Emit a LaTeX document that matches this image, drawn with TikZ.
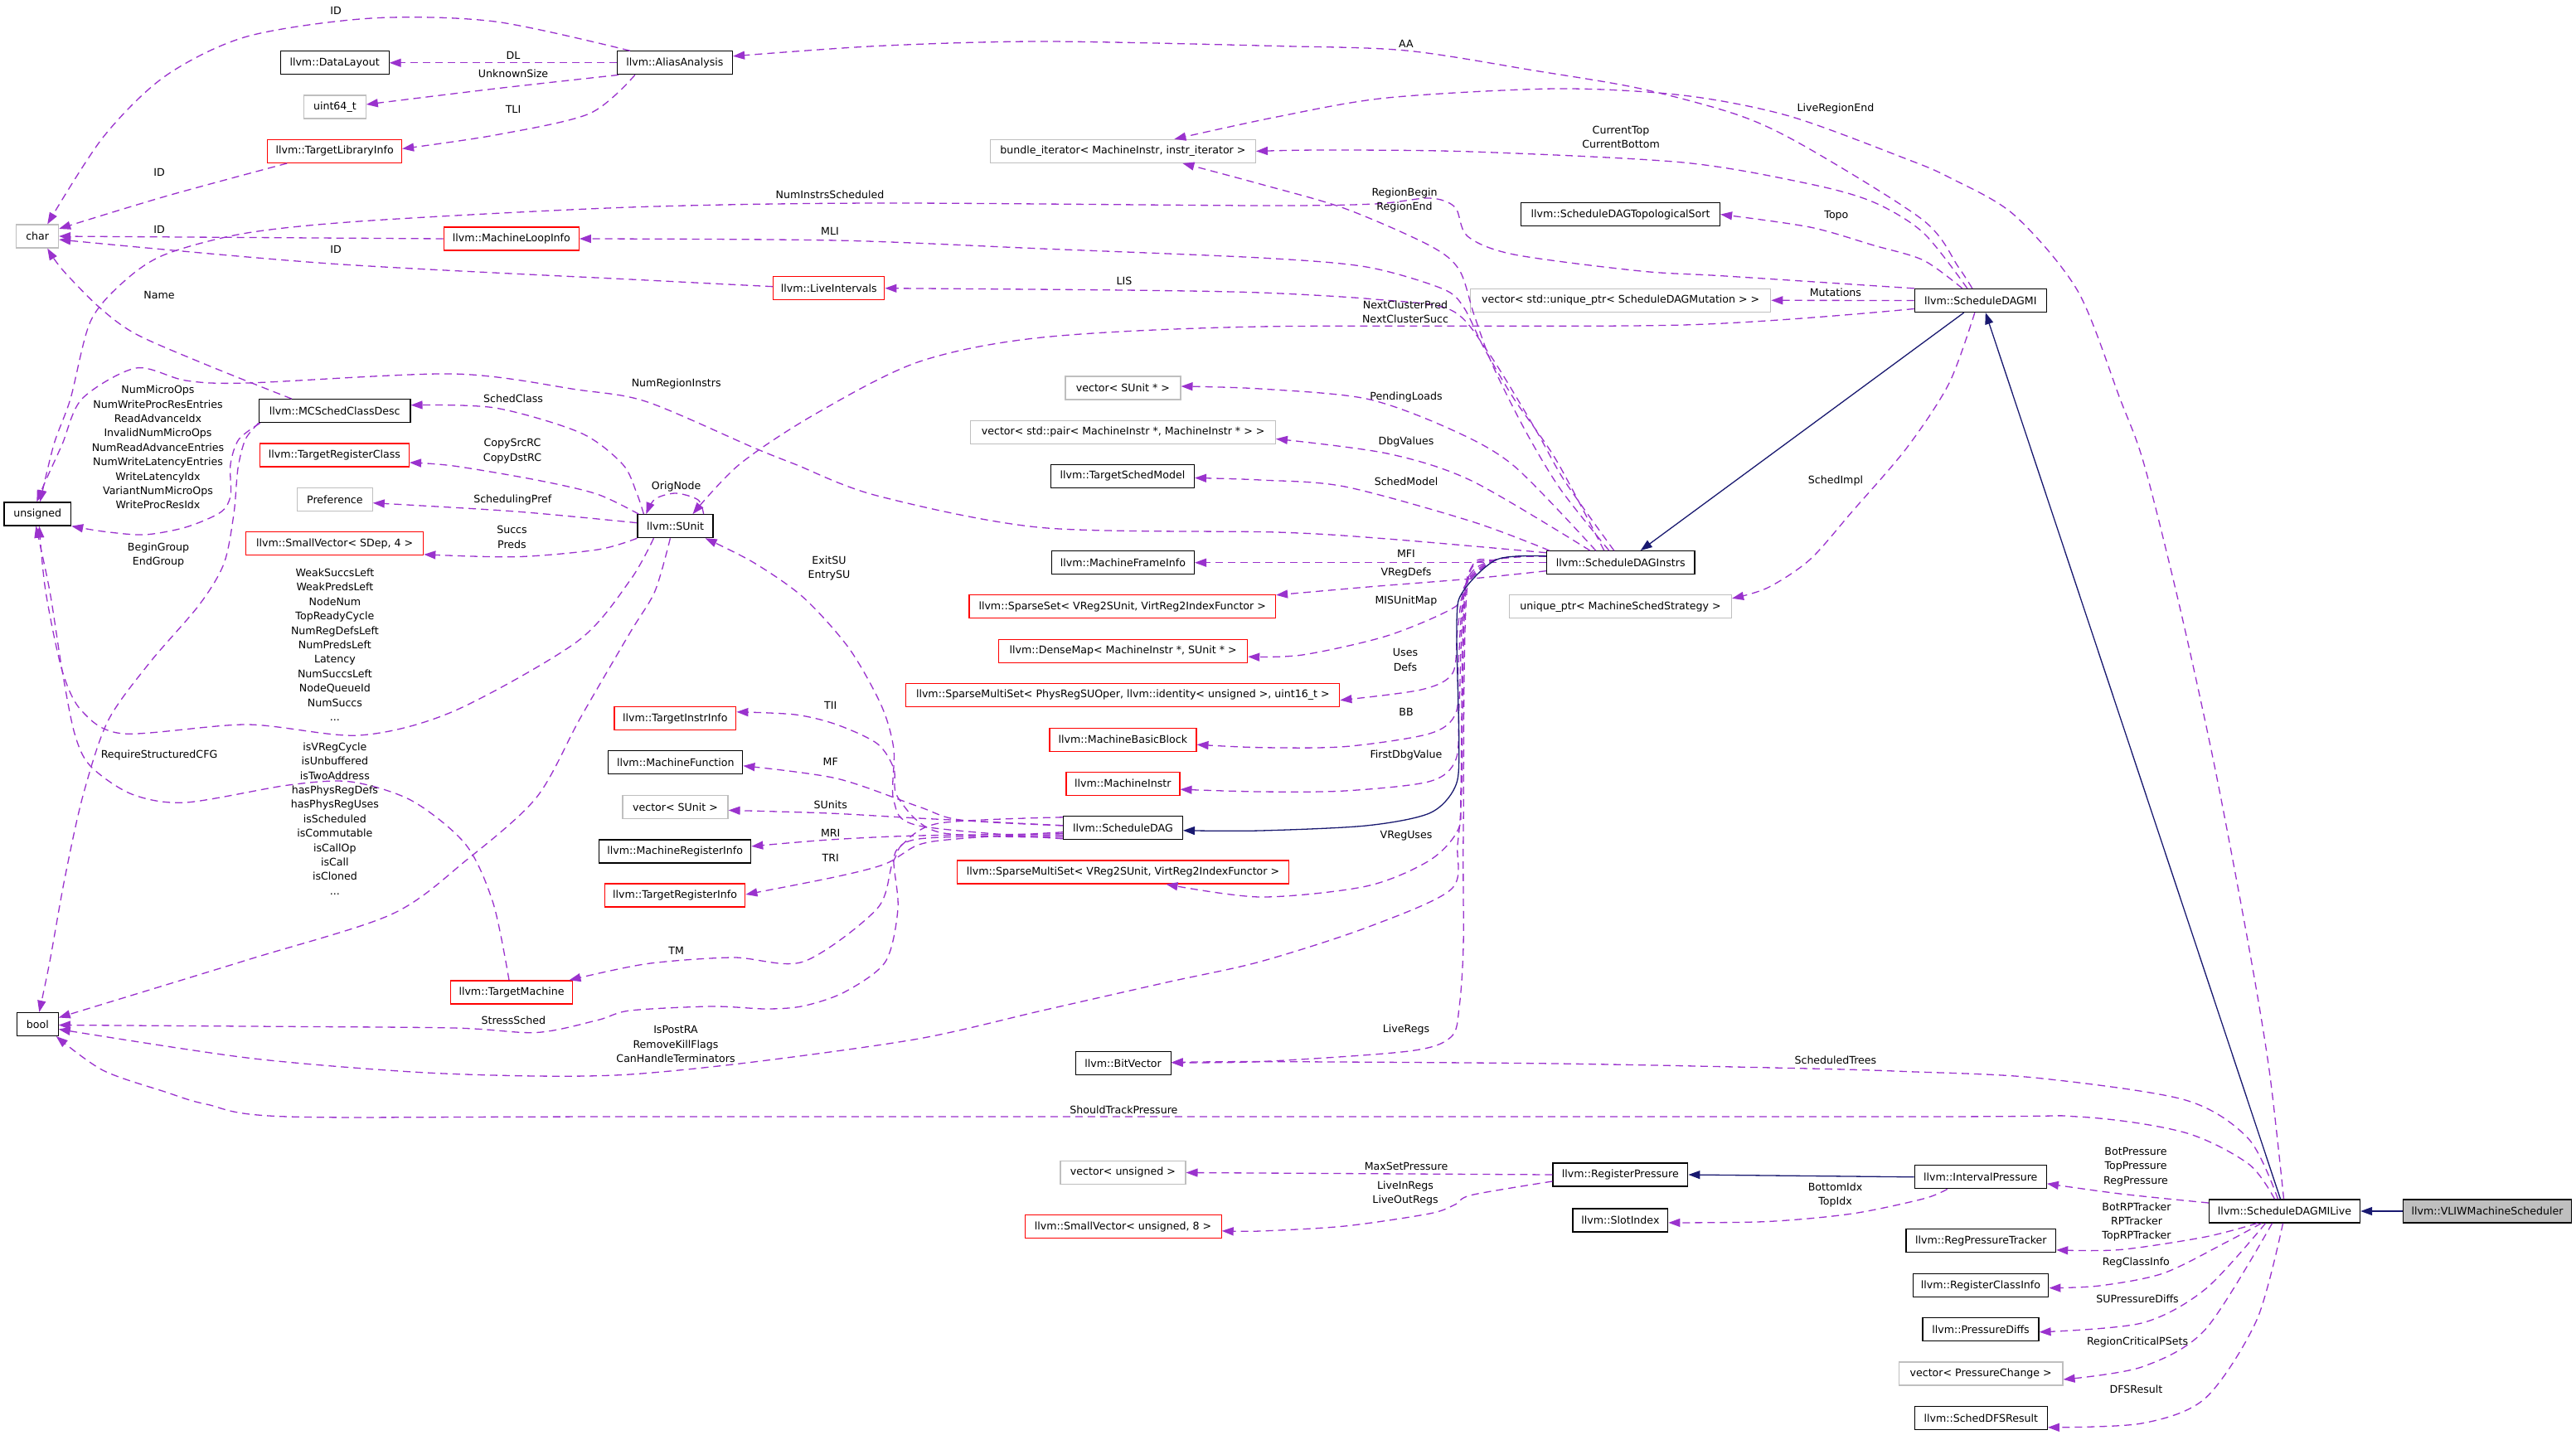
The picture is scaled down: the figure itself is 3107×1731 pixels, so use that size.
\documentclass[tikz,border=0pt]{standalone}
\usepackage{fontspec}
\setmainfont{DejaVu Sans}
\usetikzlibrary{arrows.meta}
\definecolor{depc}{HTML}{9A32CD}
\definecolor{inhc}{HTML}{191970}
\definecolor{grayc}{HTML}{BFBFBF}
\newcommand\dgfont{\fontsize{12.6pt}{17.4pt}\selectfont}
\begin{document}
\begin{tikzpicture}[x=1pt,y=-1pt,
  cls/.style={draw=black, line width=1.2pt, fill=white, minimum height=28pt, inner xsep=3pt, inner ysep=0pt, font=\dgfont, text=black},
  trunc/.style={cls, draw=red},
  undoc/.style={cls, draw=grayc},
  selfc/.style={cls, fill=grayc},
  dep/.style={draw=depc, line width=1.3pt, dash pattern=on 9pt off 6pt, -{Triangle[length=14pt,width=10pt]}},
  inh/.style={draw=inhc, line width=1.3pt, -{Triangle[length=14pt,width=10pt]}},
  lbl/.style={font=\dgfont, align=center, inner sep=0pt, text=black}]
\fill[white] (0,0) rectangle (3107,1731);
\useasboundingbox (0,0) rectangle (3107,1731);

% ---------- nodes ----------
\node[undoc, minimum width=50.7pt] (char) at (45.2,285) {char};
\node[cls, minimum width=131pt] (dl) at (403.6,75.8) {llvm::DataLayout};
\node[undoc, minimum width=74.6pt] (u64) at (403.9,129) {uint64\_t};
\node[trunc, minimum width=161.7pt] (tli) at (403.7,182.4) {llvm::TargetLibraryInfo};
\node[cls, minimum width=139pt] (aa) at (814,75.8) {llvm::AliasAnalysis};
\node[trunc, minimum width=163pt] (mli) at (616.8,288) {llvm::MachineLoopInfo};
\node[trunc, minimum width=134pt] (lis) at (999.8,347.7) {llvm::LiveIntervals};
\node[undoc, minimum width=320pt] (bundle) at (1354.4,182.4) {bundle\_iterator< MachineInstr, instr\_iterator >};
\node[cls, minimum width=240pt] (topo) at (1954.5,258.6) {llvm::ScheduleDAGTopologicalSort};
\node[undoc, minimum width=362pt] (mut) at (1954.7,362.3) {vector< std::unique\_ptr< ScheduleDAGMutation > >};
\node[cls, minimum width=159pt] (dagmi) at (2388.8,362.5) {llvm::ScheduleDAGMI};
\node[cls, minimum width=182.5pt] (mcs) at (403.7,495.7) {llvm::MCSchedClassDesc};
\node[trunc, minimum width=180pt] (trc) at (403.4,549) {llvm::TargetRegisterClass};
\node[cls, minimum width=80.6pt] (unsig) at (45.3,620) {unsigned};
\node[undoc, minimum width=90.6pt] (pref) at (403.9,602.7) {Preference};
\node[trunc, minimum width=214.3pt] (sdep) at (403.6,655.8) {llvm::SmallVector< SDep, 4 >};
\node[cls, minimum width=91pt] (sunit) at (814.5,634.7) {llvm::SUnit};
\node[undoc, minimum width=139pt] (vsup) at (1354.4,468) {vector< SUnit * >};
\node[undoc, minimum width=367.5pt] (vpair) at (1354.6,521.4) {vector< std::pair< MachineInstr *, MachineInstr * > >};
\node[cls, minimum width=173pt] (tsm) at (1353.9,574.5) {llvm::TargetSchedModel};
\node[cls, minimum width=172pt] (mfi) at (1354.4,678.7) {llvm::MachineFrameInfo};
\node[trunc, minimum width=369.6pt] (sset) at (1353.7,731.8) {llvm::SparseSet< VReg2SUnit, VirtReg2IndexFunctor >};
\node[trunc, minimum width=300pt] (dmap) at (1354.6,785.2) {llvm::DenseMap< MachineInstr *, SUnit * >};
\node[trunc, minimum width=523pt] (smsp) at (1354.3,838.6) {llvm::SparseMultiSet< PhysRegSUOper, llvm::identity< unsigned >, uint16\_t >};
\node[trunc, minimum width=177pt] (mbb) at (1354.4,892.2) {llvm::MachineBasicBlock};
\node[trunc, minimum width=137pt] (mi) at (1354.4,945.2) {llvm::MachineInstr};
\node[cls, minimum width=144pt] (sdag) at (1354.4,998.8) {llvm::ScheduleDAG};
\node[trunc, minimum width=400pt] (smsv) at (1354.5,1052) {llvm::SparseMultiSet< VReg2SUnit, VirtReg2IndexFunctor >};
\node[trunc, minimum width=146.8pt] (tii) at (814.4,866.8) {llvm::TargetInstrInfo};
\node[cls, minimum width=162pt] (mf) at (814.8,919.8) {llvm::MachineFunction};
\node[undoc, minimum width=127pt] (vsu) at (814.5,973.4) {vector< SUnit >};
\node[cls, minimum width=183pt] (mri) at (814.2,1026.9) {llvm::MachineRegisterInfo};
\node[trunc, minimum width=169.6pt] (tri) at (814,1080) {llvm::TargetRegisterInfo};
\node[trunc, minimum width=147.7pt] (tm) at (617,1197) {llvm::TargetMachine};
\node[cls, minimum width=49.7pt] (bool) at (45.3,1235.5) {bool};
\node[cls, minimum width=115pt] (bv) at (1354.6,1282.7) {llvm::BitVector};
\node[cls, minimum width=178.6pt] (dagi) at (1954.7,678.7) {llvm::ScheduleDAGInstrs};
\node[undoc, minimum width=268pt] (uptr) at (1954.5,731.8) {unique\_ptr< MachineSchedStrategy >};
\node[undoc, minimum width=151pt] (vuns) at (1354.4,1414.5) {vector< unsigned >};
\node[trunc, minimum width=237pt] (sv8) at (1354.6,1479.8) {llvm::SmallVector< unsigned, 8 >};
\node[cls, minimum width=162.8pt] (rp) at (1954.4,1417) {llvm::RegisterPressure};
\node[cls, minimum width=114.8pt] (slot) at (1954.4,1471.9) {llvm::SlotIndex};
\node[cls, minimum width=159pt] (ip) at (2388.8,1419.8) {llvm::IntervalPressure};
\node[cls, minimum width=180.6pt] (rpt) at (2389.3,1496.8) {llvm::RegPressureTracker};
\node[cls, minimum width=163.7pt] (rci) at (2389,1550.6) {llvm::RegisterClassInfo};
\node[cls, minimum width=140pt] (pdiffs) at (2389,1603.8) {llvm::PressureDiffs};
\node[undoc, minimum width=197.5pt] (vpc) at (2389.2,1657) {vector< PressureChange >};
\node[cls, minimum width=160pt] (dfs) at (2389.3,1710.8) {llvm::SchedDFSResult};
\node[cls, minimum width=182.2pt] (dagmil) at (2755.5,1461) {llvm::ScheduleDAGMILive};
\node[selfc, minimum width=202.8pt] (vliw) at (3000,1461) {llvm::VLIWMachineScheduler};

% ---------- AliasAnalysis & char ----------
\draw[dep] plot[smooth] coordinates {([xshift=16pt]aa.north west) (597,26) (448,22) (298,44) (199,92) (124,166) ([xshift=12pt]char.north)};
\draw[dep] (aa.west) -- (dl.east);
\draw[dep] plot[smooth] coordinates {([xshift=2pt]aa.south west) (597,107) ([yshift=3pt]u64.east)};
\draw[dep] plot[smooth] coordinates {([xshift=22pt]aa.south west) (711,137) (597,163) ([yshift=3pt]tli.east)};
\draw[dep] plot[smooth] coordinates {([xshift=24pt]tli.south west) (199,237) ([yshift=9pt]char.east)};
\draw[dep] (mli.west) -- (char.east);
\draw[dep] plot[smooth] coordinates {([yshift=2pt]lis.west) (780,338) (398,318) ([yshift=-4pt]char.east)};
\draw[dep] plot[smooth] coordinates {([xshift=40pt]mcs.north west) (249,440) (164,403) (119,370) (75,325) ([xshift=12pt]char.south)};

% ---------- MCSchedClassDesc ----------
\draw[dep] plot[smooth] coordinates {([xshift=2pt]mcs.south west) (288,530) (278,560) (278,598) (266,618) (224,636) (174,645) (124,641) (unsig.south east)};
\draw[dep] plot[smooth] coordinates {(mcs.south west) (296,530) (287,565) (282,620) (270,680) (240,730) (180,800) (130,870) (100,960) (78,1060) (60,1160) ([xshift=2pt]bool.north)};

% ---------- SUnit ----------
\draw[dep] plot[smooth] coordinates {([xshift=8pt]sunit.north west) (768,595) (751,560) (700,522) (597,492) ([yshift=7pt]mcs.east)};
\draw[dep] plot[smooth] coordinates {([xshift=2pt]sunit.north west) (720,596) (647,579) (547,562) ([yshift=-9pt]trc.east)};
\draw[dep] plot[smooth] coordinates {([yshift=4pt]sunit.west) (622,617) ([yshift=-4pt]pref.east)};
\draw[dep] plot[smooth] coordinates {(sunit.south west) (721,663) (622,671.7) ([yshift=-13pt]sdep.east)};
\draw[dep] plot[smooth] coordinates {([xshift=20pt]sunit.south west) (760,700) (696,774) (547,858) (433,887) (298,874) (149,885) (99,858) (75,809) (55,713) ([xshift=2pt]unsig.south)};
\draw[dep] plot[smooth] coordinates {([xshift=40pt]sunit.south west) (790,713) (760,763) (700,866) (647,962) (562,1038) (472,1103) (298,1158) ([yshift=8pt]bool.east)};
\draw[dep] plot[smooth] coordinates {([xshift=-12pt]sunit.north east) (842,603) (815,595) (790,602) ([xshift=11pt]sunit.north west)};
\draw[dep] plot[smooth] coordinates {([xshift=-3pt]tm.north) (595,1090) (562,1019) (497,966) (423,943) (348,947) (224,968) (159,958) (109,924) (90,885) (75,809) (60,713) ([xshift=-2pt]unsig.south)};

% ---------- ScheduleDAGMI ----------
\draw[dep] plot[smooth] coordinates {([yshift=-10pt]dagmi.west) (2030,392) (1520,394) (1257,407) (1108,436.5) (984,499) (892,560) ([xshift=21pt]sunit.north)};
\draw[dep] plot[smooth] coordinates {(dagmi.north west) (2081,333) (1979,327) (1826,307) (1770,285) (1755,250) (1724,239) (1658,246) (1520,248) (1058,245) (760,250) (448,266) (298,281) (199,307) (149,340) (109,388) (85,481) (65,536) ([xshift=3pt]unsig.north)};
\draw[dep] plot[smooth] coordinates {([xshift=-10pt]dagmi.north) (2362,322) (2320,266) (2183,180) (2100,140) (1979,107) (1850,85) (1696,61) (1540,55.5) (1257,50) (1058,55.5) ([yshift=8pt]aa.east)};
\draw[dep] plot[smooth] coordinates {([xshift=-16pt]dagmi.north) (2320,281) (2260,244) (2183,222) (2030,196) (1775,183) (1600,181) (bundle.east)};
\draw[dep] plot[smooth] coordinates {([xshift=-22pt]dagmi.north) (2320,314) (2260,296) (2183,274) (topo.east)};
\draw[dep] (dagmi.west) -- (mut.east);
\draw[dep] plot[smooth] coordinates {([xshift=-7pt]dagmi.south) (2351,462) (2300,540) (2234,617) (2183,675) (2132,709) ([yshift=10pt]uptr.east)};
\draw[inh] ([xshift=-20pt]dagmi.south) -- ([xshift=24pt]dagi.north);

% ---------- ScheduleDAGInstrs ----------
\draw[dep] plot[smooth] coordinates {([yshift=12pt]dagi.west) (1673,650) (1540,642) (1257,636.5) (1058,598) (959,560) (909,540) (780,484.6) (696,470) (547,451) (298,462) (224,459) (164,444) (99,481) (75,536) (55,580) ([xshift=-1pt]unsig.north)};
\draw[dep] plot[smooth] coordinates {([xshift=-14pt]dagi.north) (1882,590) (1840,520) (1800,440) (1778,380) (1760,325.5) (1724,296) (1622,251.5) (1520,222) ([xshift=72pt]bundle.south)};
\draw[dep] plot[smooth] coordinates {([xshift=-20pt]dagi.north) (1877,555) (1826,481) (1790,420) (1765,370) (1739,348) (1648,322) (1520,311) (1257,300) (1009,290) (mli.east)};
\draw[dep] plot[smooth] coordinates {([xshift=-8pt]dagi.north) (1887,580) (1852,518) (1795,425) (1750,374) (1658,361) (1520,353) (1356,350) (lis.east)};
\draw[dep] plot[smooth] coordinates {([xshift=-30pt]dagi.north) (1826,562) (1750,518) (1648,481) (1520,469) ([yshift=2pt]vsup.east)};
\draw[dep] plot[smooth] coordinates {([xshift=-37pt]dagi.north) (1775,580) (1673,547) ([yshift=-8pt]vpair.east)};
\draw[dep] plot[smooth] coordinates {([xshift=4pt]dagi.north west) (1775,629) (1622,587) (1520,579) ([yshift=-2pt]tsm.east)};
\draw[dep] (dagi.west) -- (mfi.east);
\draw[dep] plot[smooth] coordinates {([yshift=-10pt]dagi.west) (1775,698) (1650,708) ([yshift=14pt]sset.east)};
\draw[dep] plot[smooth] coordinates {([yshift=8pt]dagi.west) (1805,675) (1768,705) (1755,732) (1673,767) (1571,790) ([yshift=-7pt]dmap.east)};
\draw[dep] plot[smooth] coordinates {([yshift=8pt]dagi.west) (1805,675) (1768,705) (1758,760) (1752,812) (1714,832) ([yshift=-6pt]smsp.east)};
\draw[dep] plot[smooth] coordinates {([yshift=8pt]dagi.west) (1805,675) (1768,705) (1759,800) (1756,860) (1724,885) (1622,900.6) (1520,901.7) ([yshift=-6pt]mbb.east)};
\draw[dep] plot[smooth] coordinates {([yshift=8pt]dagi.west) (1805,675) (1768,705) (1760,850) (1756,916) (1724,942.7) (1622,954) (1520,955) ([yshift=-7pt]mi.east)};
\draw[dep] plot[smooth] coordinates {([yshift=8pt]dagi.west) (1805,675) (1768,705) (1762,950) (1759,1000) (1724,1038) (1648,1069) (1520,1082) ([xshift=52pt]smsv.south)};
\draw[dep] plot[smooth] coordinates {([yshift=8pt]dagi.west) (1805,675) (1770,705) (1765,1000) (1765,1140) (1760,1215) (1750,1251) (1699,1268) (1520,1280.6) ([yshift=1pt]bv.east)};
\draw[dep] plot[smooth] coordinates {([yshift=8pt]dagi.west) (1805,675) (1769,705) (1763,950) (1758,1019) (1750,1073) (1648,1119) (1520,1160) (1407,1185) (1257,1219) (1108,1253) (909,1281) (760,1296) (647,1298) (497,1293) (298,1276) ([yshift=-6pt]bool.east)};
\draw[inh] plot[smooth] coordinates {([yshift=8pt]dagi.west) (1805.7,674.8) (1764.9,713) (1757,751) (1759.8,904) (1754.7,950) (1724,981) (1647.6,996) (1520,1002) ([yshift=-3pt]sdag.east)};

% ---------- ScheduleDAG ----------
\draw[dep] plot[smooth] coordinates {([yshift=-11pt]sdag.west) (1133,1004) (1083,962) (1078,927) (1058,897) (1009,874) (959,862) ([yshift=8pt]tii.east)};
\draw[dep] plot[smooth] coordinates {([yshift=3pt]sdag.west) (1158,989) (1108,973) (1009,939) ([yshift=-4pt]mf.east)};
\draw[dep] plot[smooth] coordinates {([yshift=3pt]sdag.west) (1108,987) (1000,981) ([yshift=-4pt]vsu.east)};
\draw[dep] plot[smooth] coordinates {([yshift=-7pt]sdag.west) (1108,1008) (1000,1013) ([yshift=6pt]mri.east)};
\draw[dep] plot[smooth] coordinates {([yshift=-5pt]sdag.west) (1158,1011.6) (1108,1019) (1068,1042) (1009,1057.5) ([yshift=1pt]tri.east)};
\draw[dep] plot[smooth] coordinates {([yshift=-13pt]sdag.west) (1108,996) (1078,966) (1078,904) (1063,851) (1024,782) (969,720.7) (909,678.6) ([xshift=-10pt]sunit.south east)};
\draw[dep] plot[smooth] coordinates {([yshift=-9pt]sdag.west) (1108,1012) (1078,1038) (1058,1096) (969,1160) (884,1155) (780,1162.6) ([xshift=-5pt]tm.north east)};
\draw[dep] plot[smooth] coordinates {([yshift=13pt]sdag.west) (1133,993) (1088,1019) (1078,1038) (1083,1096) (1068,1160) (1019,1196.5) (969,1213.5) (924,1217) (859,1214) (760,1219) (721,1230.5) (647,1245.5) (547,1240) (300,1238) ([yshift=-1pt]bool.east)};

% ---------- ScheduleDAGMILive ----------
\draw[dep] plot[smooth] coordinates {([xshift=-1pt]dagmil.north) (2737,1291) (2712,1140) (2671,924) (2629,732) (2586,560) (2557,481) (2506,351) (2429,259) (2351,214) (2300,192) (2158,140) (2030,115) (1877,107) (1673,118) (1540,141) ([xshift=62pt]bundle.north)};
\draw[dep] plot[smooth] coordinates {([xshift=-8pt]dagmil.north) (2712,1373.7) (2634.6,1326.6) (2454,1300) (2300,1292.6) (2183,1289) (1877,1283) (1520,1280.6) ([yshift=1pt]bv.east)};
\draw[dep] plot[smooth] coordinates {([xshift=-12pt]dagmil.north) (2712,1404) (2634.6,1366) (2506,1347) (2300,1347) (780,1347) (348,1347) (249,1332) (199,1317) (124,1291) ([xshift=-3pt]bool.south east)};
\draw[dep] plot[smooth] coordinates {([yshift=10pt]dagmil.west) (2557,1440) ([yshift=-8pt]ip.east)};
\draw[dep] plot[smooth] coordinates {([xshift=-33pt]dagmil.south) (2660,1492) (2557,1507.5) ([yshift=-11pt]rpt.east)};
\draw[dep] plot[smooth] coordinates {([xshift=-28pt]dagmil.south) (2686,1498) (2609,1536) (2532,1551) ([yshift=-3pt]rci.east)};
\draw[dep] plot[smooth] coordinates {([xshift=-23pt]dagmil.south) (2660,1555) (2583,1596) ([yshift=-3pt]pdiffs.east)};
\draw[dep] plot[smooth] coordinates {([xshift=-15pt]dagmil.south) (2660,1603.6) (2583,1649) ([yshift=-7pt]vpc.east)};
\draw[dep] plot[smooth] coordinates {([xshift=-2pt]dagmil.south) (2722,1592) (2660,1686.5) (2583,1717) ([yshift=-11pt]dfs.east)};
\draw[inh] ([xshift=-5pt]dagmil.north) -- ([xshift=6pt]dagmi.south);
\draw[inh] (vliw.west) -- (dagmil.east);

% ---------- pressure ----------
\draw[inh] (ip.west) -- (rp.east);
\draw[dep] plot[smooth] coordinates {([xshift=40pt]ip.south west) (2320,1446) (2234,1464) (2132,1473.5) ([yshift=-3pt]slot.east)};
\draw[dep] (rp.west) -- (vuns.east);
\draw[dep] plot[smooth] coordinates {([yshift=-8pt]rp.west) (1775,1441.5) (1755,1453) (1724,1464) (1622,1479) (1520,1485) ([yshift=-5pt]sv8.east)};

% ---------- labels ----------
\node[lbl] (l1) at (405,13) {ID};
\node[lbl] (l2) at (619,66.6) {DL};
\node[lbl] (l3) at (619,88.8) {UnknownSize};
\node[lbl] (l4) at (619,131.7) {TLI};
\node[lbl] (l5) at (192,208) {ID};
\node[lbl] (l6) at (192,276.7) {ID};
\node[lbl] (l7) at (405,300.7) {ID};
\node[lbl] (l8) at (192,355.8) {Name};
\node[lbl] (l9) at (190.5,539.5) {NumMicroOps\\NumWriteProcResEntries\\ReadAdvanceIdx\\InvalidNumMicroOps\\NumReadAdvanceEntries\\NumWriteLatencyEntries\\WriteLatencyIdx\\VariantNumMicroOps\\WriteProcResIdx};
\node[lbl] (l10) at (619,481) {SchedClass};
\node[lbl] (l11) at (618,544) {CopySrcRC\\CopyDstRC};
\node[lbl] (l12) at (618.3,603.2) {SchedulingPref};
\node[lbl] (l13) at (617.5,648) {Succs\\Preds};
\node[lbl] (l14) at (191,669.6) {BeginGroup\\EndGroup};
\node[lbl] (l15) at (403.9,777.7) {WeakSuccsLeft\\WeakPredsLeft\\NodeNum\\TopReadyCycle\\NumRegDefsLeft\\NumPredsLeft\\Latency\\NumSuccsLeft\\NodeQueueId\\NumSuccs\\...};
\node[lbl] (l16) at (192,911.3) {RequireStructuredCFG};
\node[lbl] (l17) at (403.9,987.5) {isVRegCycle\\isUnbuffered\\isTwoAddress\\hasPhysRegDefs\\hasPhysRegUses\\isScheduled\\isCommutable\\isCallOp\\isCall\\isCloned\\...};
\node[lbl] (l18) at (815.7,586.8) {OrigNode};
\node[lbl] (l19) at (815.7,463.5) {NumRegionInstrs};
\node[lbl] (l20) at (1001,235.3) {NumInstrsScheduled};
\node[lbl] (l21) at (1001,279.3) {MLI};
\node[lbl] (l22) at (1355.9,338.5) {LIS};
\node[lbl] (l23) at (1000,685.7) {ExitSU\\EntrySU};
\node[lbl] (l24) at (1001.7,850.9) {TII};
\node[lbl] (l25) at (1001.7,919) {MF};
\node[lbl] (l26) at (1001.7,970.6) {SUnits};
\node[lbl] (l27) at (1001.7,1004.7) {MRI};
\node[lbl] (l28) at (1001.7,1034.5) {TRI};
\node[lbl] (l29) at (815.7,1146.7) {TM};
\node[lbl] (l30) at (619.3,1230.5) {StressSched};
\node[lbl] (l31) at (815,1259.5) {IsPostRA\\RemoveKillFlags\\CanHandleTerminators};
\node[lbl] (l32) at (1696,1242.5) {LiveRegs};
\node[lbl] (l33) at (2213.9,1278.7) {ScheduledTrees};
\node[lbl] (l34) at (1355.4,1338.6) {ShouldTrackPressure};
\node[lbl] (l35) at (1696,1406.5) {MaxSetPressure};
\node[lbl] (l36) at (1695,1439.5) {LiveInRegs\\LiveOutRegs};
\node[lbl] (l37) at (2213.5,1441.7) {BottomIdx\\TopIdx};
\node[lbl] (l38) at (2576,1407.6) {BotPressure\\TopPressure\\RegPressure};
\node[lbl] (l39) at (2577,1474.1) {BotRPTracker\\RPTracker\\TopRPTracker};
\node[lbl] (l40) at (2576.4,1522.6) {RegClassInfo};
\node[lbl] (l41) at (2578,1566.3) {SUPressureDiffs};
\node[lbl] (l42) at (2578,1619.4) {RegionCriticalPSets};
\node[lbl] (l43) at (2576.4,1676) {DFSResult};
\node[lbl] (l44) at (1696,52.5) {AA};
\node[lbl] (l45) at (2213.9,130.6) {LiveRegionEnd};
\node[lbl] (l46) at (1955,165.7) {CurrentTop\\CurrentBottom};
\node[lbl] (l47) at (1694,241.7) {RegionBegin\\RegionEnd};
\node[lbl] (l48) at (2214.9,260) {Topo};
\node[lbl] (l49) at (2213.9,352.5) {Mutations};
\node[lbl] (l50) at (1695,376) {NextClusterPred\\NextClusterSucc};
\node[lbl] (l51) at (1696,478.7) {PendingLoads};
\node[lbl] (l52) at (1696,532.7) {DbgValues};
\node[lbl] (l53) at (1696,580.5) {SchedModel};
\node[lbl] (l54) at (2213.9,580.3) {SchedImpl};
\node[lbl] (l55) at (1696,668.3) {MFI};
\node[lbl] (l56) at (1696,691.3) {VRegDefs};
\node[lbl] (l57) at (1696,724.6) {MISUnitMap};
\node[lbl] (l58) at (1695,796) {Uses\\Defs};
\node[lbl] (l59) at (1696,858.5) {BB};
\node[lbl] (l60) at (1696,911.3) {FirstDbgValue};
\node[lbl] (l61) at (1696,1007.8) {VRegUses};
\end{tikzpicture}
\end{document}
